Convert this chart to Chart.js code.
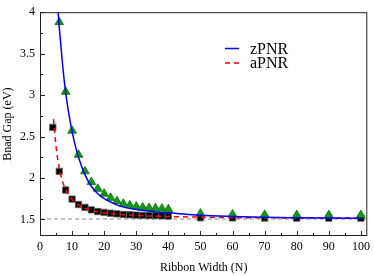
<!DOCTYPE html>
<html>
<head>
<meta charset="utf-8">
<script src="https://cdn.jsdelivr.net/npm/chart.js@4/dist/chart.umd.min.js"></script>
<style>
  html, body { margin: 0; padding: 0; background: #fff; }
  #wrap { width: 374px; height: 276px; }
</style>
</head>
<body>
<div id="wrap"><canvas id="c" width="374" height="276"></canvas></div>
<script>
// Band gap vs ribbon width, zigzag (zPNR) and armchair (aPNR) ribbons.
const Z_WIDTH = [6, 8, 10, 12, 14, 16, 18, 20, 22, 24, 26, 28, 30, 32, 34, 36, 38, 40, 50, 60, 70, 80, 90, 100];
const Z_GAP   = [3.88, 3.04, 2.57, 2.28, 2.08, 1.95, 1.87, 1.81, 1.76, 1.72, 1.69, 1.67, 1.655, 1.645, 1.638, 1.635, 1.63, 1.623, 1.57, 1.56, 1.555, 1.553, 1.552, 1.552];

const A_WIDTH = [4, 6, 8, 10, 12, 14, 16, 18, 20, 22, 24, 26, 28, 30, 32, 34, 36, 38, 40, 50, 60, 70, 80, 90, 100];
const A_GAP   = [2.61, 2.08, 1.855, 1.745, 1.68, 1.645, 1.615, 1.595, 1.585, 1.575, 1.567, 1.56, 1.556, 1.552, 1.549, 1.547, 1.545, 1.543, 1.541, 1.52, 1.518, 1.516, 1.515, 1.515, 1.515];

// fitted curves
const Z_FIT_WIDTH = [5.65, 6, 7, 8, 9, 10, 11, 12, 14, 16, 18, 20, 22, 25, 30, 35, 40, 50, 60, 70, 80, 90, 100];
const Z_FIT_GAP   = [4.0, 3.82, 3.38, 3.03, 2.77, 2.56, 2.39, 2.25, 2.04, 1.9, 1.81, 1.75, 1.71, 1.66, 1.62, 1.595, 1.58, 1.55, 1.535, 1.525, 1.52, 1.517, 1.515];

const A_FIT_WIDTH = [4.2, 5, 6, 7, 8, 10, 12, 14, 16, 18, 20, 25, 30, 40, 50, 60, 80, 100];
const A_FIT_GAP   = [2.71, 2.38, 2.12, 1.96, 1.86, 1.74, 1.675, 1.635, 1.61, 1.59, 1.578, 1.56, 1.548, 1.535, 1.527, 1.522, 1.518, 1.516];

const BULK_GAP = 1.505; // dashed reference line
const X_RANGE = [0, 102];
const Y_RANGE = [1.3, 4];
const X_TICKS = [0, 10, 20, 30, 40, 50, 60, 70, 80, 90, 100];
const X_MINOR = [5, 15, 25, 35, 45, 55, 65, 75, 85, 95];
const Y_TICKS = [1.5, 2, 2.5, 3, 3.5, 4];
const Y_MINOR = [1.75, 2.25, 2.75, 3.25, 3.75];

const SERIF = "'Liberation Serif', 'DejaVu Serif', serif";
const INK = "#222";

function pts(xs, ys) { return xs.map((x, i) => ({ x, y: ys[i] })); }

// Frame box plus inward tick marks (major + minor) on bottom and left.
const framePlugin = {
  id: "frame",
  afterDatasetsDraw(chart) {
    const { ctx, chartArea: a, scales } = chart;
    ctx.save();
    ctx.strokeStyle = INK;
    ctx.lineWidth = 1;
    ctx.strokeRect(a.left + 0.5, a.top + 0.5, a.right - a.left - 1, a.bottom - a.top - 1);
    ctx.beginPath();
    const tickX = (v, len) => {
      const px = Math.round(scales.x.getPixelForValue(v)) + 0.5;
      ctx.moveTo(px, a.bottom); ctx.lineTo(px, a.bottom - len);
    };
    const tickY = (v, len) => {
      const py = Math.round(scales.y.getPixelForValue(v)) + 0.5;
      ctx.moveTo(a.left, py); ctx.lineTo(a.left + len, py);
    };
    X_TICKS.forEach((v) => tickX(v, 5));
    X_MINOR.forEach((v) => tickX(v, 3));
    Y_TICKS.forEach((v) => tickY(v, 5));
    Y_MINOR.forEach((v) => tickY(v, 3));
    ctx.stroke();
    ctx.restore();
  },
};

// Legend inside the plot, lines only.
const legendPlugin = {
  id: "inLegend",
  afterDraw(chart) {
    const { ctx } = chart;
    const items = chart.data.datasets.filter((d) => d.inLegend);
    ctx.save();
    ctx.font = "16px " + SERIF;
    ctx.textBaseline = "middle";
    items.forEach((d, i) => {
      const y = 48.5 + i * 14.5;
      ctx.strokeStyle = d.borderColor;
      ctx.lineWidth = 1.5;
      ctx.setLineDash(d.borderDash || []);
      ctx.beginPath();
      ctx.moveTo(225, y); ctx.lineTo(239, y);
      ctx.stroke();
      ctx.setLineDash([]);
      ctx.fillStyle = "#000";
      ctx.fillText(d.label, 250, y + 1);
    });
    ctx.restore();
  },
};

new Chart(document.getElementById("c"), {
  type: "scatter",
  data: {
    datasets: [
      {
        label: "zPNR", inLegend: true, data: pts(Z_FIT_WIDTH, Z_FIT_GAP),
        showLine: true, borderColor: "#0000ff", borderWidth: 1.5, pointRadius: 0,
        cubicInterpolationMode: "monotone",
      },
      {
        label: "aPNR", inLegend: true, data: pts(A_FIT_WIDTH, A_FIT_GAP),
        showLine: true, borderColor: "#ff0000", borderWidth: 1.5, borderDash: [5, 4], pointRadius: 0,
        cubicInterpolationMode: "monotone",
      },
      {
        label: "zPNR data", data: pts(Z_WIDTH, Z_GAP),
        pointStyle: "triangle", pointRadius: 5, backgroundColor: "#119911", borderColor: "#0b6e0b", borderWidth: 0.8,
      },
      {
        label: "aPNR data", data: pts(A_WIDTH, A_GAP),
        pointStyle: "rect", pointRadius: 4.5, backgroundColor: "#000", borderColor: "#666", borderWidth: 0.8,
      },
      {
        label: "bulk", data: pts(X_RANGE, [BULK_GAP, BULK_GAP]),
        showLine: true, borderColor: "#888", borderWidth: 1, borderDash: [4, 3], pointRadius: 0,
      },
    ],
  },
  options: {
    responsive: false,
    animation: false,
    layout: { padding: { top: 5, right: 4, left: 0, bottom: 0 } },
    plugins: { legend: { display: false }, tooltip: { enabled: false } },
    scales: {
      x: {
        type: "linear", min: X_RANGE[0], max: X_RANGE[1],
        afterBuildTicks: (s) => { s.ticks = X_TICKS.map((v) => ({ value: v })); },
        afterFit: (s) => { s.height = 40; },
        grid: { display: false, drawTicks: false },
        border: { display: false },
        ticks: { color: "#000", padding: 4, font: { family: SERIF, size: 12 }, maxRotation: 0, callback: (v) => String(v) },
        title: { display: true, text: "Ribbon Width (N)", color: "#000", font: { family: SERIF, size: 12 }, padding: { top: 0, bottom: 1 } },
      },
      y: {
        type: "linear", min: Y_RANGE[0], max: Y_RANGE[1],
        afterBuildTicks: (s) => { s.ticks = Y_TICKS.map((v) => ({ value: v })); },
        afterFit: (s) => { s.width = 40; },
        grid: { display: false, drawTicks: false },
        border: { display: false },
        ticks: { color: "#000", padding: 5, font: { family: SERIF, size: 12 }, callback: (v) => String(v) },
        title: { display: true, text: "Bnad Gap (eV)", color: "#000", font: { family: SERIF, size: 12 }, padding: { top: 1, bottom: 0 } },
      },
    },
  },
  plugins: [framePlugin, legendPlugin],
});
</script>
</body>
</html>
